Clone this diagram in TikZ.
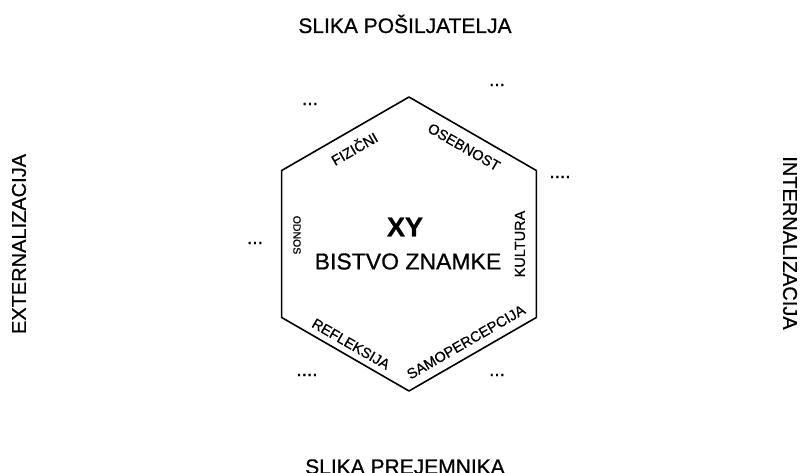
\documentclass[tikz,border=0pt]{standalone}
\usepackage{fontspec}
\setmainfont{Liberation Sans}[FakeBold=0.7]
\usepackage{tikz}

\begin{document}
\begin{tikzpicture}[x=1pt, y=1pt, line join=round,
    every node/.style={inner sep=0pt},
    heading/.style={font=\fontsize{21}{25}\selectfont},
    side/.style={font=\fontsize{20}{24}\selectfont},
    facet/.style={font=\fontsize{14.5}{17}\selectfont},
    more/.style={font=\fontsize{19}{22}\selectfont}]
  \useasboundingbox (-409,-229) rectangle (393,244);
  % corners of the hexagon
  \foreach \a/\n in {90/T,150/TL,210/BL,270/B,330/BR,30/TR}
    \coordinate (\n) at (\a:147);
  \draw[line width=1.6pt] (T) -- (TL) -- (BL) -- (B) -- (BR) -- (TR) -- cycle;
  % core of the brand
  \node[font=\fontsize{27}{30}\selectfont\bfseries] (xy) at (-4,17) {XY};
  \node[font=\fontsize{23}{27}\selectfont] (bistvo) at (-1,-17.5) {BISTVO ZNAMKE};
  % six facets along the edges
  \node[facet, rotate=30]  (fizicni)  at (-55,96)  {FIZIČNI};
  \node[facet, rotate=-30] (osebnost) at (55,97)   {OSEBNOST};
  \node[facet, rotate=90]  (kultura)  at (111,0)   {KULTURA};
  \node[facet, rotate=30]  (samoperc) at (57,-98)  {SAMOPERCEPCIJA};
  \node[facet, rotate=-30] (refleks)  at (-58,-100) {REFLEKSIJA};
  \node[font=\fontsize{10.5}{12}\selectfont, rotate=-90] (odnos) at (-112,9) {ODNOS};
  % dots around the hexagon
  \node[more] (d1) at (-99,140)  {...};
  \node[more] (d2) at (88,159)   {...};
  \node[more] (d3) at (151,67)   {....};
  \node[more] (d4) at (-154,1)   {...};
  \node[more] (d5) at (-102,-131) {....};
  \node[more] (d6) at (88,-131)  {...};
  % outer headings
  \node[heading, anchor=base] (sender)   at (-4,211)   {SLIKA POŠILJATELJA};
  \node[heading, anchor=base] (receiver) at (-4,-230)  {SLIKA PREJEMNIKA};
  \node[side, rotate=90]  (ext) at (-390,0) {EXTERNALIZACIJA};
  \node[side, rotate=-90] (int) at (381,1)  {INTERNALIZACIJA};
\end{tikzpicture}
\end{document}
